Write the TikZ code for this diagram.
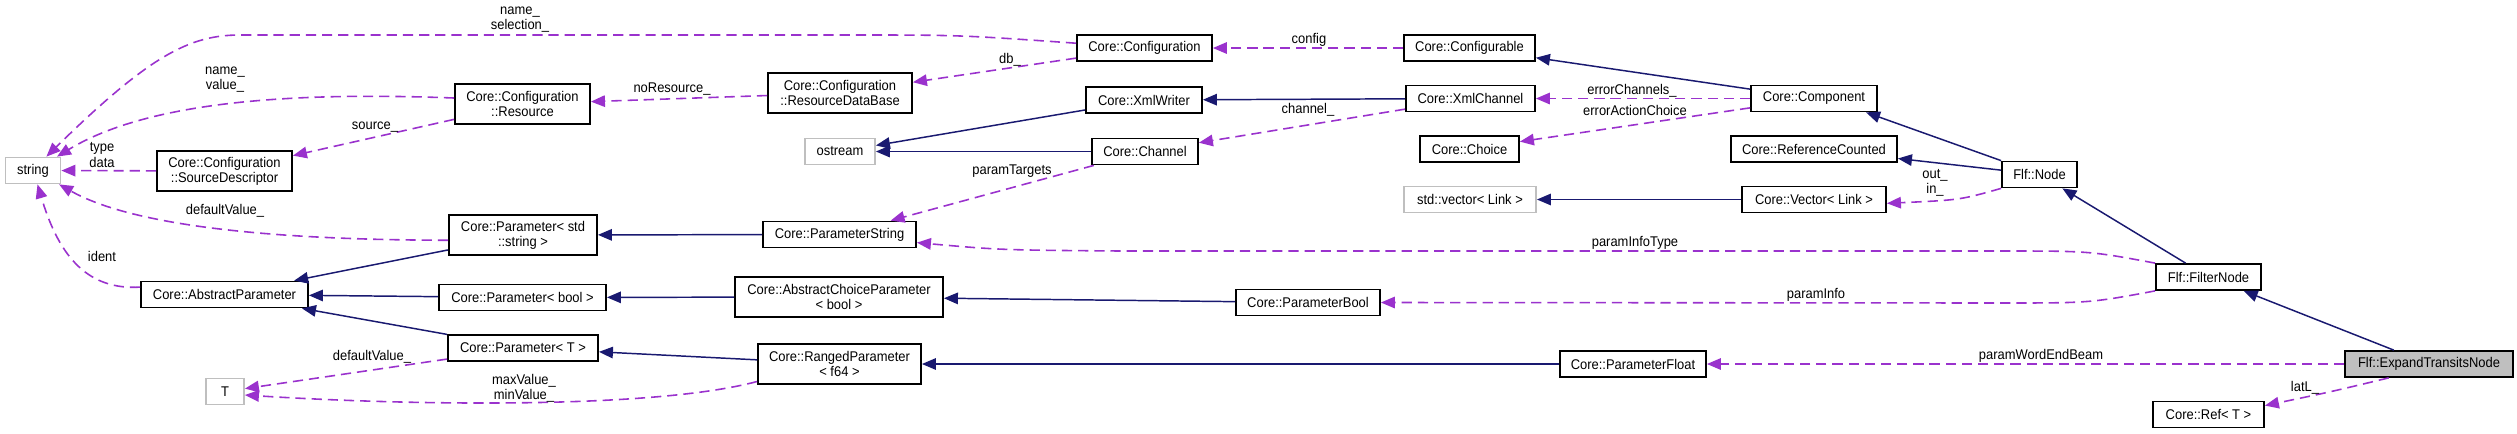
\documentclass[tikz,border=0pt]{standalone}
\usepackage{fontspec}
\setmainfont{Liberation Sans}[FakeStretch=0.92]
\usetikzlibrary{arrows.meta}
\definecolor{inhblue}{HTML}{191970}
\definecolor{usepurple}{HTML}{9A32CD}
\definecolor{extgray}{HTML}{BFBFBF}

\begin{document}
\begin{tikzpicture}[x=0.01cm, y=-0.01cm, >={Triangle[length=1.4mm, width=1.15mm]},
    font=\fontsize{4}{4.3}\selectfont,
    cls/.style={draw=black, line width=0.5pt, inner sep=0pt, minimum height=0.26cm, align=center},
    cls2/.style={cls, minimum height=0.4cm},
    ext/.style={cls, draw=extgray},
    inh/.style={->, draw=inhblue, line width=0.42pt},
    dep/.style={->, draw=usepurple, line width=0.45pt, dash pattern=on 2.9pt off 1.7pt},
    lbl/.style={inner sep=0pt, align=center}]
    \useasboundingbox (0,0) rectangle (2517,433);

    % outside types
    \node[ext, minimum width=0.55cm] (str) at (33,170.5) {string};
    \node[ext, minimum width=0.38cm] (tee) at (225,391.5) {T};
    \node[ext, minimum width=0.70cm] (ost) at (840,151.5) {ostream};
    \node[ext, minimum width=1.32cm] (svec) at (1470,199.5) {std::vector< Link >};

    % classes
    \node[cls2, minimum width=1.35cm] (srcdesc) at (224.5,171) {Core::Configuration\\::SourceDescriptor};
    \node[cls, minimum width=1.67cm] (absparam) at (224.5,294.5) {Core::AbstractParameter};
    \node[cls2, minimum width=1.35cm] (resource) at (522.5,104) {Core::Configuration\\::Resource};
    \node[cls2, minimum width=1.48cm] (paramstd) at (523,235) {Core::Parameter< std\\::string >};
    \node[cls, minimum width=1.67cm] (parambool) at (522.5,297.5) {Core::Parameter< bool >};
    \node[cls, minimum width=1.50cm] (paramT) at (523,348) {Core::Parameter< T >};
    \node[cls2, minimum width=1.44cm] (resdb) at (840,93) {Core::Configuration\\::ResourceDataBase};
    \node[cls, minimum width=1.53cm] (pstring) at (839.5,234.5) {Core::ParameterString};
    \node[cls2, minimum width=2.08cm] (choiceparam) at (839,297) {Core::AbstractChoiceParameter\\< bool >};
    \node[cls2, minimum width=1.63cm] (ranged) at (839.5,364) {Core::RangedParameter\\< f64 >};
    \node[cls, minimum width=1.35cm] (config) at (1144.5,48) {Core::Configuration};
    \node[cls, minimum width=1.16cm] (xmlwriter) at (1144,100) {Core::XmlWriter};
    \node[cls, minimum width=1.06cm] (channel) at (1145,151.5) {Core::Channel};
    \node[cls, minimum width=1.31cm] (configurable) at (1469.5,48) {Core::Configurable};
    \node[cls, minimum width=1.29cm] (xmlchannel) at (1470.5,98.5) {Core::XmlChannel};
    \node[cls, minimum width=0.99cm] (choice) at (1469.5,149) {Core::Choice};
    \node[cls, minimum width=1.44cm] (pbool) at (1308,302.5) {Core::ParameterBool};
    \node[cls, minimum width=1.46cm] (pfloat) at (1633,364) {Core::ParameterFloat};
    \node[cls, minimum width=1.26cm] (component) at (1814,98.5) {Core::Component};
    \node[cls, minimum width=1.66cm] (refcounted) at (1814,149) {Core::ReferenceCounted};
    \node[cls, minimum width=1.44cm] (vector) at (1814,199.5) {Core::Vector< Link >};
    \node[cls, minimum width=0.75cm] (node) at (2039.5,174.5) {Flf::Node};
    \node[cls, minimum width=1.05cm] (filter) at (2208.5,277) {Flf::FilterNode};
    \node[cls, minimum width=1.68cm, fill=extgray] (expand) at (2429,364) {Flf::ExpandTransitsNode};
    \node[cls, minimum width=1.11cm] (ref) at (2208.5,414.5) {Core::Ref< T >};

    % inheritance
    \draw[inh] (xmlwriter) -- (ost);
    \draw[inh] (channel) -- (ost);
    \draw[inh] (xmlchannel) -- (xmlwriter);
    \draw[inh] (component) -- (configurable);
    \draw[inh] (node.north west) -- ([xshift=0.52cm]component.south);
    \draw[inh] (node) -- (refcounted);
    \draw[inh] (vector) -- (svec);
    \draw[inh] (filter) -- (node);
    \draw[inh] (expand) -- (filter);
    \draw[inh] (pstring) -- (paramstd);
    \draw[inh] (paramstd) -- (absparam);
    \draw[inh] (parambool) -- (absparam);
    \draw[inh] (paramT) -- (absparam);
    \draw[inh] (choiceparam) -- (parambool);
    \draw[inh] (pbool) -- (choiceparam);
    \draw[inh] (ranged) -- (paramT);
    \draw[inh] (pfloat) -- (ranged);

    % members
    \draw[dep] (config.176) .. controls (960,35) .. (850,35) -- (240,35) .. controls (190,35) and (150,55) .. (str.46);
    \draw[dep] (resource.175) .. controls (300,92) and (150,100) .. (str.30);
    \draw[dep] (srcdesc) -- (str);
    \draw[dep] (resource) -- (srcdesc);
    \draw[dep] (resdb) -- (resource);
    \draw[dep] (config) -- (resdb);
    \draw[dep] (configurable) -- (config);
    \draw[dep] (paramstd.-176) .. controls (300,240) and (140,230) .. (str.-28);
    \draw[dep] (absparam.175) .. controls (90,290) and (60,260) .. (str.-72);
    \draw[dep] (paramT) -- (tee);
    \draw[dep] (ranged.-168) .. controls (650,410) and (400,405) .. (tee.-10);
    \draw[dep] (xmlchannel) -- (channel);
    \draw[dep] (channel) -- (pstring);
    \draw[dep] (component) -- (xmlchannel);
    \draw[dep] (component) -- (choice);
    \draw[dep] (node.south west) .. controls (1960,200) .. (vector.-3);
    \draw[dep] (filter.north west) .. controls (2090,251) .. (2000,251) -- (1120,251) .. controls (1000,250) .. (pstring.-6);
    \draw[dep] (filter.south west) .. controls (2090,303) .. (2000,303) -- (pbool.east);
    \draw[dep] (expand) -- (pfloat);
    \draw[dep] (expand.-161) .. controls (2330,392) .. (ref.9);

    % member names
    \node[lbl] (lbSel) at (520,20) {name\_\\selection\_};
    \node[lbl] (lbVal) at (225,80) {name\_\\value\_};
    \node[lbl] (lbNoRes) at (672,89) {noResource\_};
    \node[lbl] (lbSrc) at (375,127) {source\_};
    \node[lbl] (lbType) at (102,155) {type\\data};
    \node[lbl] (lbDefStr) at (225,211) {defaultValue\_};
    \node[lbl] (lbIdent) at (102,256) {ident};
    \node[lbl] (lbDefT) at (372,357) {defaultValue\_};
    \node[lbl] (lbMinMax) at (524,388) {maxValue\_\\minValue\_};
    \node[lbl] (lbConfig) at (1309,40) {config};
    \node[lbl] (lbDb) at (1010,60) {db\_};
    \node[lbl] (lbChannel) at (1308,110) {channel\_};
    \node[lbl] (lbErrCh) at (1632,91) {errorChannels\_};
    \node[lbl] (lbErrAct) at (1635,110) {errorActionChoice};
    \node[lbl] (lbTargets) at (1012,171) {paramTargets};
    \node[lbl] (lbInfoType) at (1635,243) {paramInfoType};
    \node[lbl] (lbOutIn) at (1935,183) {out\_\\in\_};
    \node[lbl] (lbInfo) at (1816,295) {paramInfo};
    \node[lbl] (lbBeam) at (2041,356) {paramWordEndBeam};
    \node[lbl] (lbLat) at (2305,388) {latL\_};
\end{tikzpicture}
\end{document}
